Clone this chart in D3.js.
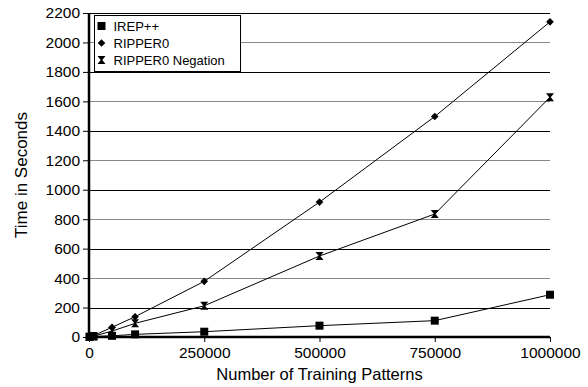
<!DOCTYPE html>
<html>
<head>
<meta charset="utf-8">
<script src="https://cdn.jsdelivr.net/npm/d3@7/dist/d3.min.js"></script>
<style>
  body { margin: 0; background: #fff; }
  svg { display: block; font-family: "Liberation Sans", Arial, sans-serif; }
</style>
</head>
<body>
<svg id="chart" width="588" height="387"></svg>
<script>
// data
var patterns = [1000, 10000, 50000, 100000, 250000, 500000, 750000, 1000000];
var irep = [1, 3, 8, 18, 36, 77, 111, 287];
var ripper = [2, 10, 66, 138, 378, 916, 1497, 2140];
var negation = [1, 6, 40, 93, 212, 550, 835, 1628];
var series_names = ['IREP++', 'RIPPER0', 'RIPPER0 Negation'];
var x_ticks = [0, 250000, 500000, 750000, 1000000];
var y_ticks = d3.range(0, 2201, 200);

var svg = d3.select('#chart');
var font = '"Liberation Sans", Arial, sans-serif';
// note: "top" is taken by window.top, so use plot_* names
var plot_left = 89, plot_right = 550, plot_top = 13, plot_bottom = 337;

var x = d3.scaleLinear().domain([0, 1000000]).range([plot_left, plot_right]);
var y = d3.scaleLinear().domain([0, 2200]).range([plot_bottom, plot_top]);

// gridlines (alternate dark / grey like the scanned figure)
svg.append('g').selectAll('line').data(y_ticks.filter(function(d){ return d > 0; }))
  .enter().append('line')
  .attr('x1', plot_left).attr('x2', plot_right)
  .attr('y1', function(d){ return Math.round(y(d)) + 0.5; })
  .attr('y2', function(d){ return Math.round(y(d)) + 0.5; })
  .attr('stroke', function(d){ return (d/200) % 2 ? '#000' : '#888'; })
  .attr('stroke-width', 1);

// axes
var yAxis = d3.axisLeft(y).tickValues(y_ticks).tickFormat(d3.format('d')).tickSize(6).tickPadding(3);
var gy = svg.append('g').attr('transform', 'translate(' + plot_left + ',0)').call(yAxis);
gy.select('.domain').remove();
gy.selectAll('.tick line').attr('stroke', '#000');
gy.selectAll('text').attr('font-size', 15.5).attr('fill', '#000').attr('font-family', font);

var xAxis = d3.axisBottom(x).tickValues(x_ticks).tickFormat(d3.format('d')).tickSize(5).tickPadding(5);
var gx = svg.append('g').attr('transform', 'translate(0,' + plot_bottom + ')').call(xAxis);
gx.select('.domain').remove();
gx.selectAll('.tick line').attr('stroke', '#000');
gx.selectAll('text').attr('font-size', 15.5).attr('fill', '#000').attr('font-family', font);

svg.append('line').attr('x1', plot_left).attr('x2', plot_left).attr('y1', plot_top).attr('y2', plot_bottom + 1)
  .attr('stroke', '#000').attr('stroke-width', 2.5);
svg.append('line').attr('x1', plot_left - 1).attr('x2', plot_right).attr('y1', plot_bottom).attr('y2', plot_bottom)
  .attr('stroke', '#000').attr('stroke-width', 2.5);

// titles
svg.append('text').attr('x', x(500000)).attr('y', 380).attr('text-anchor', 'middle')
  .attr('font-family', font).attr('font-size', 16.5).text('Number of Training Patterns');
svg.append('text').attr('transform', 'translate(27,' + y(1100) + ') rotate(-90)')
  .attr('text-anchor', 'middle').attr('font-family', font).attr('font-size', 17).text('Time in Seconds');

// markers
var shapes = {
  square: function(g){ g.append('rect').attr('x', -4).attr('y', -4).attr('width', 8).attr('height', 8); },
  diamond: function(g){ g.append('path').attr('d', 'M0,-3.8 L3.8,0 L0,3.8 L-3.8,0 Z'); },
  hourglass: function(g){ g.append('path').attr('d', 'M-4,-4 L4,-4 L0.8,0 L4,4 L-4,4 L-0.8,0 Z'); }
};

var line = d3.line().x(function(d){ return x(d[0]); }).y(function(d){ return y(d[1]); });
var all_series = [
  { name: series_names[0], values: irep, shape: 'square' },
  { name: series_names[1], values: ripper, shape: 'diamond' },
  { name: series_names[2], values: negation, shape: 'hourglass' }
];

all_series.forEach(function(s){
  var pts = patterns.map(function(p, i){ return [p, s.values[i]]; });
  svg.append('path').attr('d', line(pts)).attr('fill', 'none').attr('stroke', '#000').attr('stroke-width', 1);
  svg.append('g').selectAll('g').data(pts).enter().append('g')
    .attr('transform', function(d){ return 'translate(' + x(d[0]) + ',' + y(d[1]) + ')'; })
    .attr('fill', '#000')
    .each(function(){ shapes[s.shape](d3.select(this)); });
});

// legend
var lg = svg.append('g').attr('transform', 'translate(94.5,15.5)');
lg.append('rect').attr('width', 146).attr('height', 56).attr('fill', '#fff').attr('stroke', '#000').attr('stroke-width', 1);
all_series.forEach(function(s, i){
  var row = lg.append('g').attr('transform', 'translate(7,' + (10.5 + i*17) + ')');
  var m = row.append('g').attr('fill', '#000');
  shapes[s.shape](m);
  row.append('text').attr('x', 12).attr('y', 4.5).attr('font-family', font).attr('font-size', 13).text(s.name);
});
</script>
</body>
</html>
